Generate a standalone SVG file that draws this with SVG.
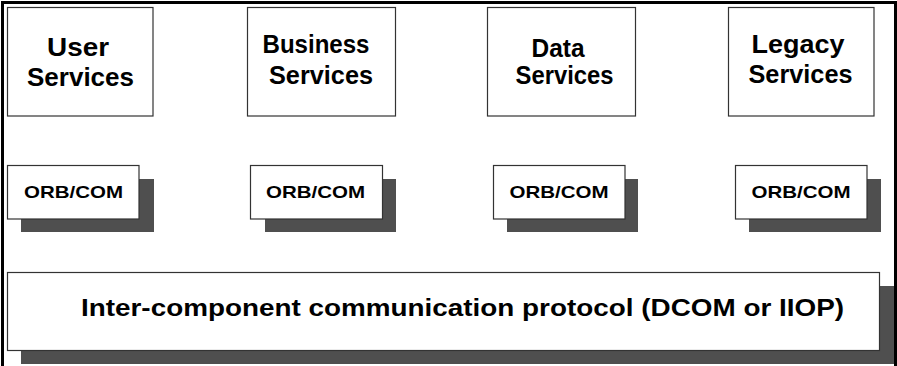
<svg xmlns="http://www.w3.org/2000/svg" width="897" height="366" viewBox="0 0 897 366">
<style>
.box{fill:#fff;stroke:#333;stroke-width:1.2}
.shadow{fill:#4f4f4f}
text{font-family:"Liberation Sans",Arial,sans-serif;font-weight:bold;fill:#000}
.svc{font-size:25px;text-anchor:middle}
.orb{font-size:17px;text-anchor:middle}
.bus{font-size:23.5px}
</style>
<rect width="897" height="366" fill="#fff"/>
<g id="orb-user">
<rect class="shadow" x="21" y="179" width="133" height="53"/>
<rect class="box" x="7.5" y="165.5" width="131.5" height="53.5"/>
<text class="orb" x="73.5" y="198" textLength="99" lengthAdjust="spacingAndGlyphs">ORB/COM</text>
</g>
<g id="orb-business">
<rect class="shadow" x="265" y="179" width="131" height="53"/>
<rect class="box" x="250.5" y="165.5" width="132" height="53.5"/>
<text class="orb" x="315.5" y="198" textLength="99" lengthAdjust="spacingAndGlyphs">ORB/COM</text>
</g>
<g id="orb-data">
<rect class="shadow" x="507" y="179" width="131" height="53"/>
<rect class="box" x="493.5" y="165.5" width="131.5" height="53.5"/>
<text class="orb" x="559" y="198" textLength="99" lengthAdjust="spacingAndGlyphs">ORB/COM</text>
</g>
<g id="orb-legacy">
<rect class="shadow" x="749" y="179" width="132" height="53"/>
<rect class="box" x="735.5" y="165.5" width="131.5" height="53.5"/>
<text class="orb" x="801" y="198" textLength="99" lengthAdjust="spacingAndGlyphs">ORB/COM</text>
</g>
<g id="user-services">
<rect class="box" x="7.5" y="7.5" width="145.5" height="108.5"/>
<text class="svc" x="78" y="56" textLength="62" lengthAdjust="spacingAndGlyphs">User</text>
<text class="svc" x="80.5" y="86" textLength="107" lengthAdjust="spacingAndGlyphs">Services</text>
</g>
<g id="business-services">
<rect class="box" x="247.5" y="7.5" width="148" height="108.5"/>
<text class="svc" x="316" y="53" textLength="107" lengthAdjust="spacingAndGlyphs">Business</text>
<text class="svc" x="321" y="84" textLength="104" lengthAdjust="spacingAndGlyphs">Services</text>
</g>
<g id="data-services">
<rect class="box" x="487.5" y="7.5" width="148" height="108.5"/>
<text class="svc" x="558" y="57" textLength="53" lengthAdjust="spacingAndGlyphs">Data</text>
<text class="svc" x="564.5" y="84" textLength="98" lengthAdjust="spacingAndGlyphs">Services</text>
</g>
<g id="legacy-services">
<rect class="box" x="728.5" y="7.5" width="145.5" height="108.5"/>
<text class="svc" x="798" y="53" textLength="93" lengthAdjust="spacingAndGlyphs">Legacy</text>
<text class="svc" x="800.5" y="83" textLength="104" lengthAdjust="spacingAndGlyphs">Services</text>
</g>
<g id="protocol">
<rect class="shadow" x="21" y="286" width="874" height="78"/>
<rect class="box" x="7.5" y="272.5" width="872" height="78"/>
<text class="bus" x="81" y="316" textLength="763" lengthAdjust="spacingAndGlyphs">Inter-component communication protocol (DCOM or IIOP)</text>
</g>
<g id="connectors"/>
<path d="M2.5,366V2.5H895.5V366" fill="none" stroke="#000" stroke-width="3"/>
</svg>
